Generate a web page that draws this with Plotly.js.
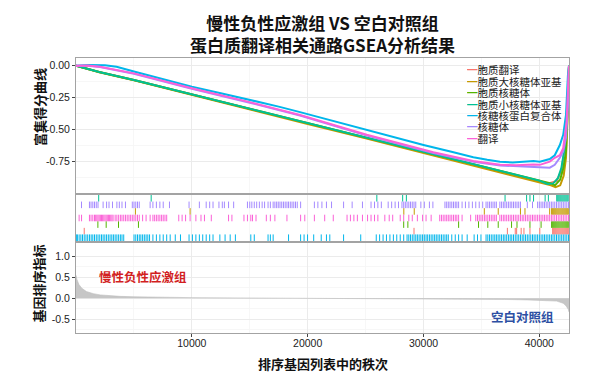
<!DOCTYPE html>
<html><head><meta charset="utf-8">
<script src="https://cdn.plot.ly/plotly-3.0.1.min.js"></script>
<style>html,body{margin:0;padding:0;background:#fff}#chart{width:599px;height:378px}</style>
</head><body><div id="chart"></div>
<script>
// ---------------- data ----------------
const geneCount = 42560;
const setNames  = ['胞质翻译','胞质大核糖体亚基','胞质核糖体','胞质小核糖体亚基','核糖核蛋白复合体','核糖体','翻译'];
const setColors = ['#F8766D','#C49A00','#53B400','#00C094','#00B6EB','#A58AFF','#FB61D7'];
// row of each set in the hit (rug) panel, 7 = top
const rugRow = [2, 5, 3, 7, 1, 6, 4];

const xTickVals = [10000, 20000, 30000, 40000];
const xTickText = ['10000', '20000', '30000', '40000'];
const esTickVals = [0, -0.25, -0.5, -0.75];
const esTickText = ['0.00', '-0.25', '-0.50', '-0.75'];
const rankTickVals = [1, 0.5, 0, -0.5];
const rankTickText = ['1.0', '0.5', '0.0', '-0.5'];

// running enrichment score (rank, score)
const esRank_cytoTrans = [1, 2000, 5000, 10000, 15000, 20000, 25000, 30000, 35000, 38000, 40000, 40800, 41500, 41900, 42200, 42400, 42530, 42560];
const es_cytoTrans     = [0, -0.05, -0.112, -0.226, -0.339, -0.452, -0.564, -0.677, -0.79, -0.856, -0.902, -0.92, -0.9, -0.82, -0.65, -0.4, -0.08, 0];
const esRank_LSU = [1, 2000, 5000, 10000, 15000, 20000, 25000, 30000, 35000, 38000, 40000, 40700, 41000, 41400, 41800, 42100, 42300, 42420, 42530, 42560];
const es_LSU     = [0, -0.052, -0.115, -0.23, -0.343, -0.456, -0.568, -0.681, -0.795, -0.862, -0.907, -0.925, -0.935, -0.95, -0.935, -0.86, -0.72, -0.45, -0.08, 0];
const esRank_cytoRibo = [1, 2000, 5000, 10000, 15000, 20000, 25000, 30000, 35000, 38000, 40000, 40700, 41000, 41350, 41800, 42070, 42300, 42400, 42530, 42560];
const es_cytoRibo     = [0, -0.05, -0.112, -0.225, -0.337, -0.45, -0.562, -0.675, -0.79, -0.855, -0.9, -0.915, -0.92, -0.935, -0.89, -0.8, -0.67, -0.44, -0.07, 0];
const esRank_SSU = [1, 2000, 5000, 10000, 15000, 20000, 25000, 30000, 35000, 38000, 40000, 40700, 41200, 41600, 41900, 42150, 42350, 42500, 42560];
const es_SSU     = [0, -0.05, -0.112, -0.225, -0.338, -0.451, -0.563, -0.676, -0.789, -0.853, -0.898, -0.925, -0.92, -0.88, -0.8, -0.66, -0.45, -0.15, 0];
const esRank_RNP = [1, 1000, 2500, 3500, 5000, 7500, 10000, 12500, 15000, 17500, 19340, 22500, 25000, 27500, 30000, 32500, 34300, 35500, 36600, 37700, 38600, 39500, 40040, 40900, 41330, 41770, 42060, 42300, 42470, 42560];
const es_RNP     = [0, 0.006, 0.004, -0.008, -0.045, -0.105, -0.164, -0.215, -0.265, -0.32, -0.363, -0.44, -0.5, -0.56, -0.62, -0.675, -0.715, -0.735, -0.75, -0.757, -0.752, -0.745, -0.75, -0.73, -0.70, -0.62, -0.54, -0.385, -0.07, 0];
const esRank_ribo = [1, 1000, 2070, 5000, 10000, 15000, 19340, 25100, 30850, 34300, 36620, 38000, 39470, 40040, 40900, 41330, 41770, 42060, 42300, 42470, 42560];
const es_ribo     = [0, 0.0, -0.01, -0.063, -0.18, -0.289, -0.39, -0.545, -0.682, -0.75, -0.78, -0.786, -0.79, -0.79, -0.797, -0.775, -0.72, -0.67, -0.565, -0.31, 0];
const esRank_trans = [1, 1000, 2070, 5000, 10000, 15000, 19340, 25100, 30850, 34300, 36620, 38000, 39470, 40040, 40900, 41330, 41770, 42060, 42350, 42530, 42560];
const es_trans     = [0, 0.002, -0.008, -0.06, -0.177, -0.285, -0.385, -0.54, -0.677, -0.745, -0.775, -0.778, -0.772, -0.775, -0.75, -0.72, -0.70, -0.645, -0.44, -0.07, 0];

// hit positions (rank of each member gene)
const hits_cytoTrans = [710, 29180, 37240, 37920, 38040, 38430, 38670, 39190, 40040, 41150, 41240, 41330, 41420, 41510, 41600, 41690, 41780, 41870, 41960, 42050, 42140, 42230, 42320, 42410, 42500];
const hits_LSU = [5130, 9850, 28300, 29200, 35250, 36450, 38370, 38760, 40890, 41060, 41150, 41240, 41330, 41420, 41510, 41600, 41690, 41780, 41870, 41960, 42050, 42140, 42230, 42320, 42410, 42500];
const hits_cytoRibo = [1890, 2605, 3670, 5390, 28290, 28650, 33030, 34750, 35550, 36450, 37600, 38070, 39190, 40150, 41060, 41150, 41240, 41330, 41420, 41510, 41600, 41690, 41780, 41870, 41960, 42050, 42140, 42230, 42320, 42410, 42500];
const hits_SSU = [1960, 6490, 25970, 28200, 28520, 37040, 38900, 39190, 39500, 40500, 40780, 41500, 41590, 41680, 41770, 41860, 41950, 42040, 42130, 42220, 42310, 42400, 42490];
const hits_RNP = [30, 120, 270, 420, 560, 710, 860, 1010, 1160, 1310, 1450, 1600, 1750, 1900, 2050, 2200, 2340, 2490, 2640, 2790, 2940, 3090, 3230, 3380, 3530, 3680, 3830, 3970, 4120, 5010, 5160, 5310, 5460, 5600, 5750, 5900, 6050, 6200, 6350, 6640, 6940, 7240, 7530, 7830, 8130, 8570, 9020, 9760, 10050, 10350, 10650, 10940, 11240, 11540, 11830, 12420, 12870, 13310, 13760, 15090, 15390, 16580, 16780, 17020, 18350, 19390, 19690, 19990, 20520, 21170, 21620, 21910, 23100, 24580, 25920, 26210, 26510, 26800, 27100, 27400, 27690, 27990, 28290, 28580, 28730, 28880, 29030, 29180, 29330, 29470, 29620, 29770, 29920, 30070, 30220, 30360, 30510, 30660, 30810, 30960, 31100, 31250, 31400, 31550, 31700, 31850, 32000, 32140, 32440, 32740, 33030, 33330, 33770, 34370, 34660, 34960, 35400, 35550, 35700, 35850, 36000, 36150, 36290, 36440, 36590, 36740, 36890, 37030, 37180, 37330, 37480, 37620, 37770, 37920, 38070, 38220, 38370, 38520, 38660, 38810, 38960, 39110, 39260, 39410, 39550, 39700, 39850, 40000, 40150, 40300, 40440, 40590, 40740, 40890, 41040, 41180, 41330, 41480, 41630, 41780, 41930, 42070, 42220, 42370, 42520];
const hits_ribo = [475, 1160, 1300, 1450, 1600, 1750, 1900, 2340, 2640, 2850, 3150, 3530, 3740, 3970, 4270, 4860, 5010, 5160, 5310, 5460, 6400, 6640, 6940, 7240, 7530, 8070, 9760, 10650, 11240, 11540, 11830, 12340, 12630, 12810, 13170, 13610, 14800, 15000, 15180, 15390, 15600, 15830, 16070, 16280, 16580, 16780, 17020, 17170, 17320, 17460, 17610, 17760, 17910, 18060, 18210, 18350, 18500, 18650, 18800, 18950, 19100, 19390, 20580, 20880, 21230, 21620, 22060, 23100, 23840, 24730, 25470, 25770, 26060, 26360, 26950, 27250, 27550, 27840, 28140, 28290, 28430, 28580, 28730, 28880, 29030, 29180, 29330, 29770, 30070, 30510, 30810, 31850, 32000, 32140, 32290, 32440, 32590, 32740, 32880, 33030, 33330, 33620, 33920, 34220, 34510, 34810, 35110, 35400, 35550, 35700, 35850, 36000, 36150, 36290, 36590, 36740, 36890, 37030, 37180, 37330, 37480, 37620, 37770, 37920, 38070, 38220, 38370, 38960, 39410, 39850, 40000, 40150, 40300, 40440, 40590, 40740, 40890, 41040, 41180, 41330, 41480, 41630, 41780, 41930, 42070, 42220, 42370, 42520];
const hits_trans = [270, 480, 1160, 1300, 1450, 1600, 1700, 1800, 1900, 2000, 2100, 2200, 2300, 2400, 2500, 2600, 2700, 2800, 2900, 3000, 3100, 3200, 3380, 3530, 3680, 3830, 3970, 4120, 4270, 4420, 4570, 4720, 4860, 5010, 5160, 5310, 5460, 5750, 6050, 6400, 6640, 6790, 6940, 7090, 7240, 7390, 7530, 7680, 7830, 8870, 9160, 9460, 9850, 10350, 10790, 11090, 11680, 13170, 13460, 14500, 14800, 15090, 15240, 15540, 16430, 16780, 17170, 18210, 19390, 19750, 20580, 21470, 22210, 23400, 23690, 23990, 24290, 24730, 25170, 25470, 25770, 26060, 26660, 27040, 27340, 27990, 28290, 28730, 29030, 29470, 29920, 30220, 30660, 31400, 31550, 31700, 31850, 32000, 32140, 32290, 32440, 32590, 32740, 32880, 33030, 33330, 34070, 34510, 34660, 34810, 34960, 35110, 35260, 35400, 35550, 35700, 35850, 36000, 36150, 36290, 36590, 36740, 36890, 37030, 37180, 37330, 37480, 37620, 37770, 37920, 38070, 38220, 38370, 38520, 38660, 38810, 38960, 39110, 39260, 39410, 39550, 39700, 39850, 40000, 40150, 40300, 40440, 40590, 40740, 40890, 41040, 41180, 41330, 41480, 41630, 41780, 41930, 42070, 42220, 42370, 42520];

// ranked list metric
const metricRank  = [1, 80, 250, 500, 900, 1500, 2100, 3000, 3800, 5000, 7000, 10000, 14000, 18000, 21000, 25000, 30000, 34000, 37000, 39000, 40500, 41500, 42060, 42300, 42490, 42560];
const metricValue = [0.55, 0.45, 0.33, 0.24, 0.16, 0.11, 0.08, 0.06, 0.045, 0.035, 0.025, 0.015, 0.008, 0.003, 0, -0.004, -0.01, -0.018, -0.028, -0.04, -0.055, -0.068, -0.12, -0.18, -0.26, -0.33];

const groupUp = '慢性负性应激组';
const groupDown = '空白对照组';

// ---------------- build ----------------
const esX = [esRank_cytoTrans, esRank_LSU, esRank_cytoRibo, esRank_SSU, esRank_RNP, esRank_ribo, esRank_trans];
const esY = [es_cytoTrans, es_LSU, es_cytoRibo, es_SSU, es_RNP, es_ribo, es_trans];
const hits = [hits_cytoTrans, hits_LSU, hits_cytoRibo, hits_SSU, hits_RNP, hits_ribo, hits_trans];

const numFont = "'Liberation Sans', Arial, 'Noto Sans CJK SC', sans-serif";
const cjkFont = "'Noto Sans CJK SC', 'Noto Sans', sans-serif";

const traces = [];
setNames.forEach((name, i) => {
  traces.push({
    type: 'scatter', mode: 'lines', name: name,
    x: esX[i], y: esY[i], xaxis: 'x', yaxis: 'y',
    line: {color: setColors[i], width: 2}, showlegend: false, hoverinfo: 'skip'
  });
});
setNames.forEach((name, i) => {
  traces.push({
    type: 'scatter', mode: 'markers', name: name,
    x: hits[i], y: hits[i].map(() => rugRow[i]), xaxis: 'x2', yaxis: 'y2',
    marker: {symbol: 'line-ns-open', size: 4.7, color: setColors[i], line: {color: setColors[i], width: 1}},
    showlegend: false, hoverinfo: 'skip'
  });
});
traces.push({
  type: 'scatter', mode: 'lines', x: metricRank, y: metricValue, xaxis: 'x3', yaxis: 'y3',
  fill: 'tozeroy', fillcolor: '#C6C6C6', line: {color: '#BDBDBD', width: 0.6}, showlegend: false, hoverinfo: 'skip'
});

const gridMajor = '#EBEBEB', gridMinor = '#F5F5F5', border = '#A3A3A3';
function xAx(anchor, labels) {
  return {
    anchor: anchor, domain: [0, 1], range: [0, geneCount], tickmode: 'array',
    tickvals: xTickVals, ticktext: xTickText, showticklabels: labels,
    ticks: labels ? 'outside' : '', ticklen: 3, tickcolor: '#444', tickwidth: 1,
    ticklabelstandoff: labels ? -3 : 0,
    showgrid: true, gridcolor: gridMajor, gridwidth: 1,
    minor: {tickvals: [5000, 15000, 25000, 35000], showgrid: true, gridcolor: gridMinor, gridwidth: 0.8},
    showline: true, mirror: true, linecolor: border, linewidth: 1, zeroline: false,
    tickfont: {family: numFont, size: 10.5, color: '#222'}, fixedrange: true
  };
}

const legendAnn = setNames.map((name, i) => ({
  xref: 'paper', yref: 'paper', x: (466 - 76) / 493, y: (333 - (70 + i * 11.4)) / 275,
  xanchor: 'left', yanchor: 'middle', showarrow: false, height: 11, borderpad: 0,
  text: '<span style="color:' + setColors[i] + '">━</span>' + name,
  font: {family: cjkFont, size: 10.5, color: '#1a1a1a'}
}));

const layout = {
  width: 599, height: 378,
  margin: {l: 76, r: 30, t: 58, b: 45, pad: 0},
  paper_bgcolor: '#ffffff', plot_bgcolor: '#ffffff',
  showlegend: false,
  font: {family: numFont, size: 10.5, color: '#222'},
  title: {
    text: '<b>慢性负性应激组 VS 空白对照组</b><br><b>蛋白质翻译相关通路GSEA分析结果</b>',
    font: {family: cjkFont, size: 17, color: '#111'},
    x: 0.5, xref: 'paper', xanchor: 'center', y: 0.92, yref: 'container', yanchor: 'top'
  },
  xaxis: xAx('y', false),
  xaxis2: xAx('y2', false),
  xaxis3: xAx('y3', true),
  yaxis: {
    anchor: 'x', domain: [140 / 275, 1], range: [-0.995, 0.06],
    tickmode: 'array', tickvals: esTickVals, ticktext: esTickText,
    ticks: 'outside', ticklen: 3, tickcolor: '#444', tickwidth: 1,
    showgrid: true, gridcolor: gridMajor,
    minor: {tickvals: [-0.125, -0.375, -0.625, -0.875], showgrid: true, gridcolor: gridMinor, gridwidth: 0.8},
    showline: true, mirror: true, linecolor: border, linewidth: 1, zeroline: false,
    tickfont: {family: numFont, size: 10.5, color: '#222'}, fixedrange: true
  },
  yaxis2: {
    anchor: 'x2', domain: [92 / 275, 138 / 275], range: [0.5, 7.5],
    showticklabels: false, ticks: '', showgrid: false, zeroline: false,
    showline: true, mirror: true, linecolor: border, linewidth: 1, fixedrange: true
  },
  yaxis3: {
    anchor: 'x3', domain: [0, 90 / 275], range: [-0.83, 1.32],
    tickmode: 'array', tickvals: rankTickVals, ticktext: rankTickText,
    ticks: 'outside', ticklen: 3, tickcolor: '#444', tickwidth: 1,
    showgrid: true, gridcolor: gridMajor,
    minor: {tickvals: [0.75, 0.25, -0.25, -0.75], showgrid: true, gridcolor: gridMinor, gridwidth: 0.8},
    showline: true, mirror: true, linecolor: border, linewidth: 1, zeroline: false,
    tickfont: {family: numFont, size: 10.5, color: '#222'}, fixedrange: true
  },
  annotations: [
    {xref: 'paper', yref: 'paper', x: (39 - 76) / 493, y: (333 - 107) / 275, textangle: -90,
     xanchor: 'center', yanchor: 'middle', showarrow: false,
     text: '<b>富集得分曲线</b>', font: {family: cjkFont, size: 13, color: '#111'}},
    {xref: 'paper', yref: 'paper', x: (37.5 - 76) / 493, y: (333 - 284) / 275, textangle: -90,
     xanchor: 'center', yanchor: 'middle', showarrow: false,
     text: '<b>基因排序指标</b>', font: {family: cjkFont, size: 13, color: '#111'}},
    {xref: 'paper', yref: 'paper', x: 0.5, y: (333 - 363) / 275,
     xanchor: 'center', yanchor: 'middle', showarrow: false,
     text: '<b>排序基因列表中的秩次</b>', font: {family: cjkFont, size: 13, color: '#111'}},
    {xref: 'x3', yref: 'y3', x: 1830, y: 0.53, xanchor: 'left', yanchor: 'middle', showarrow: false,
     text: '<b>' + groupUp + '</b>', font: {family: cjkFont, size: 12.5, color: '#D21F1F'}},
    {xref: 'x3', yref: 'y3', x: 41430, y: -0.445, xanchor: 'right', yanchor: 'middle', showarrow: false,
     text: '<b>' + groupDown + '</b>', font: {family: cjkFont, size: 12.5, color: '#2D4FA3'}}
  ].concat(legendAnn)
};

Plotly.newPlot('chart', traces, layout, {staticPlot: true, displayModeBar: false});
</script>
</body></html>
